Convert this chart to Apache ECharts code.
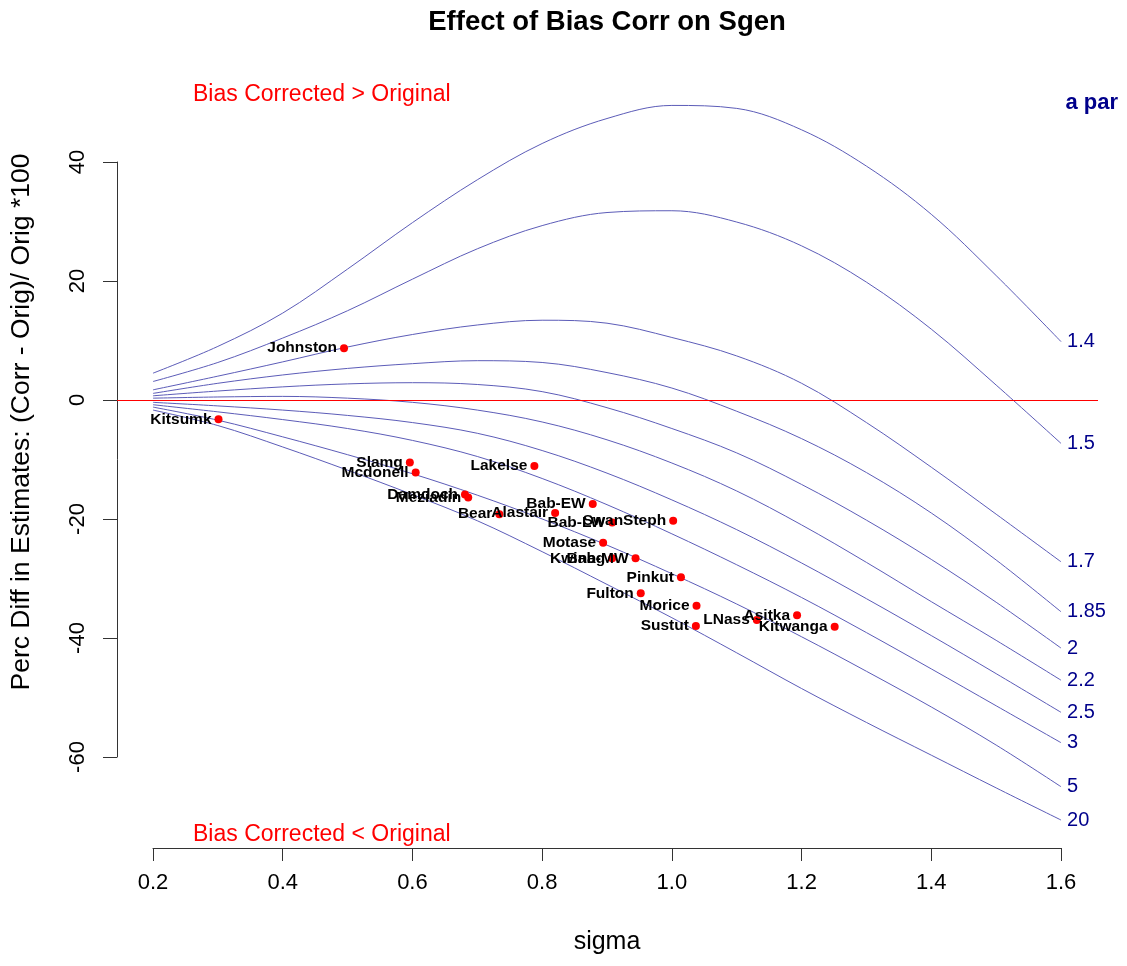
<!DOCTYPE html>
<html>
<head>
<meta charset="utf-8">
<title>Effect of Bias Corr on Sgen</title>
<script src="https://cdn.jsdelivr.net/npm/echarts@6/dist/echarts.min.js"></script>
<style>
  html, body { margin: 0; padding: 0; background: #fff; }
  #chart { width: 1127px; height: 966px; }
</style>
</head>
<body>
<div id="chart"></div>
<script>
// sigma values at which each curve was read
const sigmaGrid = [0.2, 0.3, 0.4, 0.5, 0.6, 0.7, 0.8, 0.9, 1.0, 1.1, 1.2, 1.3, 1.4, 1.5, 1.6];

// one curve per "a par" value (percent difference, bias corrected vs original)
const aParLabels = ["1.4", "1.5", "1.7", "1.85", "2", "2.2", "2.5", "3", "5", "20"];
const pctA1_4 = [4.5, 9.0, 14.6, 22.0, 29.8, 37.0, 43.1, 47.3, 49.5, 49.0, 45.4, 39.3, 31.2, 20.9, 9.8];
const pctA1_5 = [3.1, 6.3, 10.4, 15.0, 20.3, 25.4, 29.3, 31.5, 31.8, 29.9, 25.9, 19.8, 11.9, 2.5, -7.3];
const pctA1_7 = [1.7, 4.0, 6.4, 8.9, 11.0, 12.6, 13.4, 12.9, 10.5, 7.4, 2.8, -3.8, -11.3, -19.2, -27.2];
const pctA1_85 = [1.1, 2.8, 4.2, 5.3, 6.1, 6.6, 6.3, 4.6, 2.0, -1.9, -6.5, -12.2, -19.0, -26.9, -35.6];
const pctA2 = [0.7, 1.5, 2.2, 2.7, 2.9, 2.6, 1.4, -1.3, -4.8, -8.9, -14.2, -20.2, -26.8, -34.0, -41.7];
const pctA2_2 = [0.3, 0.5, 0.6, 0.3, -0.4, -1.7, -3.7, -6.7, -10.6, -15.3, -21.0, -27.3, -33.9, -40.4, -47.1];
const pctA2_5 = [-0.4, -1.0, -1.7, -2.6, -3.8, -5.6, -8.5, -12.3, -16.8, -21.8, -27.4, -33.4, -39.6, -46.0, -52.5];
const pctA3 = [-0.8, -2.0, -3.3, -4.8, -6.8, -9.5, -13.2, -17.6, -22.5, -27.7, -33.2, -39.1, -45.2, -51.4, -57.6];
const pctA5 = [-1.2, -3.4, -6.2, -9.2, -12.4, -16.0, -20.0, -24.4, -29.2, -34.3, -39.8, -45.6, -51.6, -58.0, -65.0];
const pctA20 = [-1.7, -4.3, -7.9, -11.8, -15.9, -20.3, -25.5, -31.0, -36.6, -42.5, -48.5, -54.2, -59.7, -65.2, -70.6];
const curves = [pctA1_4, pctA1_5, pctA1_7, pctA1_85, pctA2, pctA2_2, pctA2_5, pctA3, pctA5, pctA20];

// stocks
const stockNames = ["Johnston", "Kitsumk", "Slamg", "Mcdonell", "Damdoch", "Meziadin", "Lakelse", "Bear",
	"Alastair", "Bab-EW", "Bab-LW", "SwanSteph", "Motase", "Kwinag", "Bab-MW", "Pinkut", "Fulton",
	"Morice", "Sustut", "LNass", "Asitka", "Kitwanga"];
const stockSigma = [0.4945, 0.301, 0.596, 0.605, 0.681, 0.686, 0.788, 0.734,
	0.820, 0.878, 0.908, 1.002, 0.894, 0.908, 0.944, 1.014, 0.952,
	1.038, 1.037, 1.131, 1.193, 1.251];
const stockPctDiff = [8.7, -3.25, -10.5, -12.2, -15.9, -16.4, -11.1, -19.2,
	-19.0, -17.5, -20.6, -20.3, -24.0, -26.6, -26.6, -29.8, -32.5,
	-34.6, -38.0, -37.0, -36.2, -38.1];

const FONT = "Liberation Sans, Arial, sans-serif";
const curveColor = "#5c5cb8";
const parColor = "#00008b";
const axisColor = "#333";

const chart = echarts.init(document.getElementById("chart"));

const curveSeries = curves.map((vals, i) => ({
	type: "line",
	name: "a " + aParLabels[i],
	xAxisIndex: 0,
	yAxisIndex: 0,
	data: sigmaGrid.map((s, j) => [s, vals[j]]),
	smooth: 0.35,
	symbol: "none",
	lineStyle: {color: curveColor, width: 1},
	endLabel: {
		show: true,
		formatter: () => aParLabels[i],
		color: parColor,
		fontSize: 20,
		fontFamily: FONT,
		distance: 6,
	},
	silent: true,
	z: 2,
}));

const stockSeries = {
	type: "scatter",
	xAxisIndex: 0,
	yAxisIndex: 0,
	data: stockNames.map((n, i) => [stockSigma[i], stockPctDiff[i], n]),
	symbolSize: 8,
	itemStyle: {color: "#ff0000", opacity: 1},
	label: {
		show: true,
		position: "left",
		distance: 3,
		formatter: (p) => p.data[2],
		color: "#000",
		fontWeight: "bold",
		fontSize: 15.5,
		fontFamily: FONT,
	},
	markLine: {
		silent: true,
		symbol: "none",
		label: {show: false},
		lineStyle: {color: "#ff0000", width: 1, type: "solid"},
		data: [{yAxis: 0}],
	},
	z: 5,
};

const option = {
	animation: false,
	backgroundColor: "#fff",
	textStyle: {fontFamily: FONT},
	grid: [
		{left: 117, right: 29, top: 72.7, bottom: 118, outerBoundsMode: "none"},
		{left: 153, right: 66, bottom: 118, height: 1, outerBoundsMode: "none"},
		{left: 117, width: 1, top: 162, bottom: 209, outerBoundsMode: "none"},
	],
	xAxis: [
		{gridIndex: 0, type: "value", min: 0.1445, max: 1.657, show: false},
		{
			gridIndex: 1, type: "value", min: 0.2, max: 1.6, interval: 0.2, position: "bottom",
			axisLine: {show: true, lineStyle: {color: axisColor, width: 1}},
			axisTick: {show: true, length: 13, lineStyle: {color: axisColor}},
			axisLabel: {fontSize: 22, color: "#000", margin: 24, fontFamily: FONT, formatter: (v) => v.toFixed(1)},
			splitLine: {show: false},
		},
		{gridIndex: 2, type: "value", show: false},
	],
	yAxis: [
		{gridIndex: 0, type: "value", min: -75.3, max: 55, show: false},
		{gridIndex: 1, type: "value", show: false},
		{
			gridIndex: 2, type: "value", min: -60, max: 40, interval: 20, position: "left",
			axisLine: {show: true, lineStyle: {color: axisColor, width: 1}},
			axisTick: {show: true, length: 14, lineStyle: {color: axisColor}},
			axisLabel: {rotate: 90, fontSize: 22, color: "#000", margin: 28, fontFamily: FONT},
			splitLine: {show: false},
		},
	],
	graphic: [
		{type: "text", x: 607, y: 22, style: {text: "Effect of Bias Corr on Sgen", font: "bold 27.5px " + FONT, fill: "#000", align: "center", verticalAlign: "middle", textAlign: "center", textVerticalAlign: "middle"}},
		{type: "text", x: 193, y: 95, style: {text: "Bias Corrected > Original", font: "23px " + FONT, fill: "#ff0000", align: "left", verticalAlign: "middle", textAlign: "left", textVerticalAlign: "middle"}},
		{type: "text", x: 193, y: 835, style: {text: "Bias Corrected < Original", font: "23px " + FONT, fill: "#ff0000", align: "left", verticalAlign: "middle", textAlign: "left", textVerticalAlign: "middle"}},
		{type: "text", x: 1118, y: 103, style: {text: "a par", font: "bold 22px " + FONT, fill: parColor, align: "right", verticalAlign: "middle", textAlign: "right", textVerticalAlign: "middle"}},
		{type: "text", x: 607, y: 942, style: {text: "sigma", font: "25px " + FONT, fill: "#000", align: "center", verticalAlign: "middle", textAlign: "center", textVerticalAlign: "middle"}},
		{type: "text", x: 22, y: 422, rotation: Math.PI / 2, style: {text: "Perc Diff in Estimates: (Corr - Orig)/ Orig *100", font: "26.5px " + FONT, fill: "#000", align: "center", verticalAlign: "middle", textAlign: "center", textVerticalAlign: "middle"}},
	],
	series: [...curveSeries, stockSeries],
};

chart.setOption(option);
</script>
</body>
</html>
